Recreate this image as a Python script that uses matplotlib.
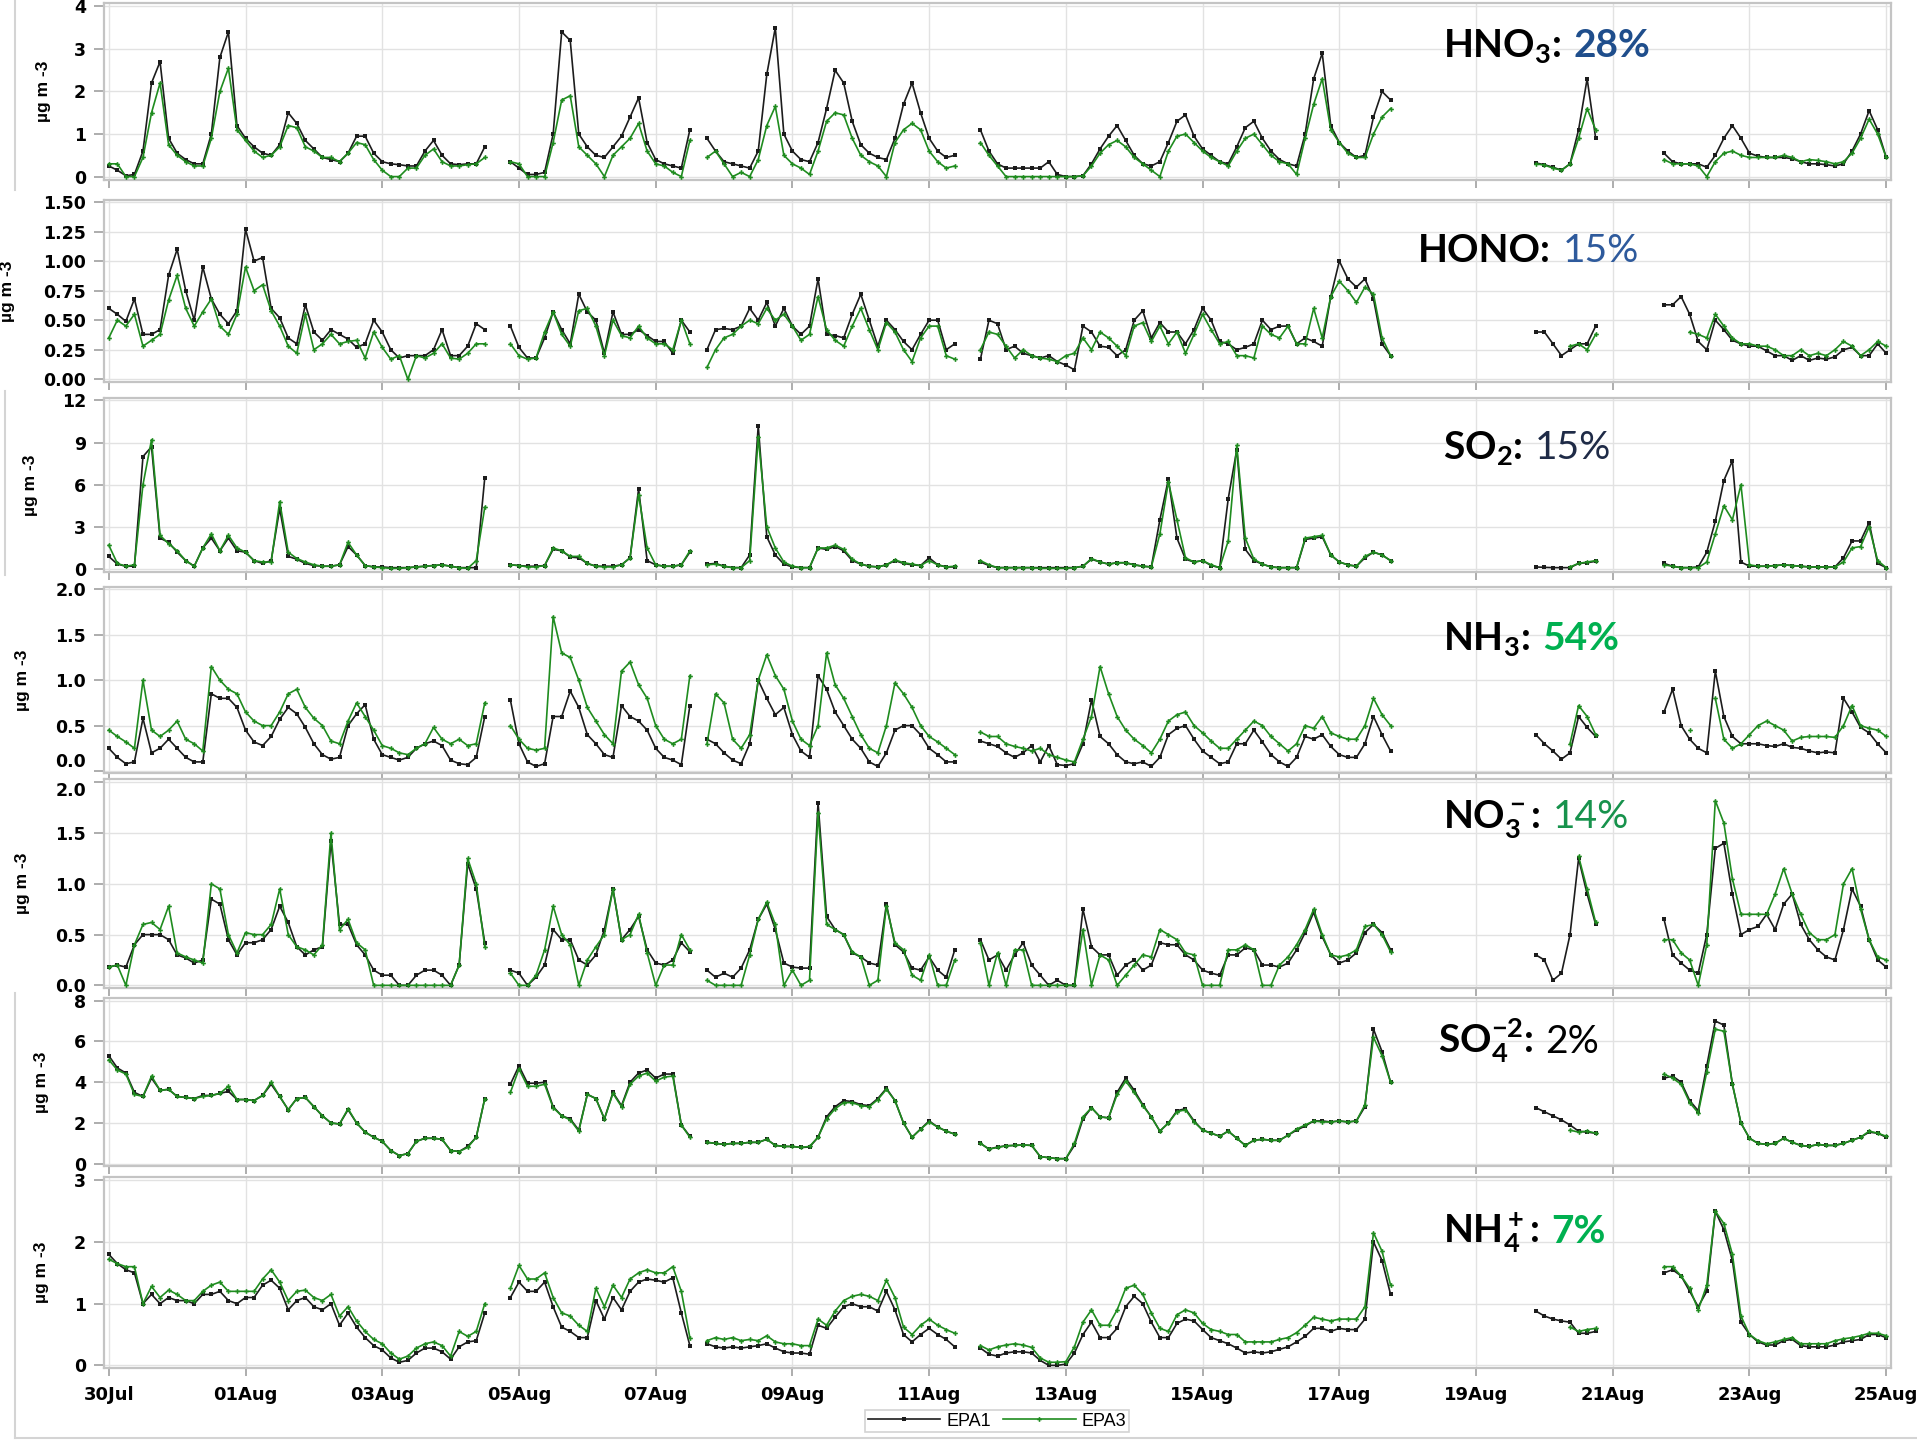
import numpy as np
import matplotlib
matplotlib.use("Agg")
import matplotlib.pyplot as plt
from matplotlib.lines import Line2D

nan = float("nan")

# ---------------- data ----------------
TICK_LABELS = ["30Jul", "01Aug", "03Aug", "05Aug", "07Aug", "09Aug", "11Aug",
               "13Aug", "15Aug", "17Aug", "19Aug", "21Aug", "23Aug", "25Aug"]
# days since 30 Jul 00:00 at which each measurement segment starts; 3-hourly values
SEG_START_DAYS = [0.0, 5.875, 8.75, 12.75, 20.875, 22.75]
STEP_DAYS = 0.125

HNO3_EPA1 = [
    [0.25,0.15,0.02,0.05,0.6,2.2,2.7,0.9,0.55,0.4,0.3,0.3,1.0,2.8,3.4,1.2,0.9,0.7,0.55,0.5,0.75,1.5,1.25,0.85,0.65,0.45,0.4,0.35,0.55,0.95,0.95,0.55,0.35,0.3,0.28,0.25,0.25,0.6,0.85,0.5,0.3,0.28,0.3,0.3,0.7],
    [0.35,0.2,0.05,0.05,0.1,1.0,3.4,3.2,1.0,0.7,0.5,0.45,0.7,0.95,1.4,1.85,0.8,0.4,0.3,0.25,0.2,1.1],
    [0.9,0.6,0.35,0.3,0.25,0.2,0.6,2.4,3.5,1.0,0.6,0.4,0.35,0.8,1.6,2.5,2.2,1.3,0.75,0.55,0.45,0.4,0.9,1.7,2.2,1.5,0.9,0.6,0.45,0.5],
    [1.1,0.6,0.3,0.2,0.2,0.2,0.2,0.2,0.35,0.05,0.0,0.0,0.02,0.3,0.65,0.95,1.2,0.85,0.5,0.3,0.25,0.35,0.8,1.3,1.45,0.95,0.65,0.5,0.35,0.3,0.7,1.15,1.3,0.9,0.6,0.4,0.3,0.25,1.0,2.3,2.9,1.2,0.8,0.6,0.45,0.5,1.4,2.0,1.8],
    [0.32,0.28,0.22,0.15,0.3,1.1,2.3,0.9],
    [0.55,0.35,0.3,0.3,0.3,0.22,0.5,0.9,1.2,0.9,0.55,0.48,0.45,0.45,0.45,0.42,0.35,0.3,0.3,0.28,0.25,0.3,0.6,1.0,1.55,1.1,0.45],
]
HNO3_EPA3 = [
    [0.3,0.3,0.0,0.0,0.45,1.5,2.2,0.75,0.5,0.35,0.25,0.25,0.9,2.0,2.55,1.1,0.85,0.6,0.45,0.5,0.7,1.2,1.15,0.7,0.6,0.45,0.45,0.35,0.55,0.8,0.75,0.4,0.15,0.0,0.0,0.2,0.2,0.5,0.65,0.35,0.25,0.25,0.28,0.3,0.45],
    [0.35,0.3,0.0,0.0,0.0,0.8,1.8,1.9,0.7,0.5,0.3,0.0,0.5,0.7,0.9,1.25,0.6,0.3,0.25,0.1,0.0,0.85],
    [0.45,0.6,0.3,0.0,0.1,0.0,0.4,1.2,1.65,0.5,0.3,0.2,0.05,0.6,1.3,1.5,1.45,0.9,0.5,0.35,0.25,0.0,0.8,1.1,1.25,1.1,0.6,0.35,0.2,0.25],
    [0.8,0.5,0.25,0.0,0.0,0.0,0.0,0.0,0.0,0.0,0.0,0.0,0.02,0.25,0.55,0.75,0.85,0.7,0.45,0.3,0.15,0.0,0.6,0.95,1.0,0.8,0.6,0.45,0.35,0.25,0.6,0.9,1.0,0.75,0.5,0.35,0.3,0.05,0.9,1.7,2.3,1.1,0.8,0.55,0.45,0.45,1.0,1.4,1.6],
    [0.3,0.27,0.2,0.15,0.3,0.9,1.6,1.1],
    [0.4,0.3,0.3,0.3,0.25,0.0,0.35,0.55,0.6,0.5,0.45,0.45,0.45,0.45,0.5,0.45,0.35,0.4,0.38,0.35,0.3,0.35,0.55,0.9,1.35,1.0,0.45],
]

HONO_EPA1 = [
    [0.6,0.55,0.49,0.68,0.38,0.38,0.42,0.88,1.1,0.75,0.5,0.95,0.68,0.55,0.47,0.58,1.27,1.0,1.03,0.6,0.52,0.35,0.3,0.63,0.4,0.33,0.42,0.38,0.34,0.27,0.3,0.5,0.4,0.25,0.18,0.2,0.2,0.2,0.25,0.42,0.2,0.2,0.28,0.47,0.42],
    [0.45,0.27,0.18,0.18,0.35,0.57,0.42,0.3,0.72,0.57,0.5,0.22,0.57,0.38,0.38,0.42,0.37,0.32,0.32,0.22,0.5,0.4],
    [0.25,0.42,0.43,0.42,0.45,0.6,0.5,0.65,0.45,0.6,0.45,0.38,0.45,0.85,0.38,0.37,0.35,0.55,0.72,0.5,0.28,0.5,0.42,0.32,0.25,0.38,0.5,0.5,0.25,0.3],
    [0.17,0.5,0.47,0.25,0.28,0.22,0.2,0.18,0.2,0.15,0.12,0.08,0.45,0.4,0.28,0.27,0.2,0.25,0.5,0.58,0.35,0.48,0.4,0.4,0.3,0.42,0.6,0.5,0.32,0.3,0.25,0.27,0.3,0.5,0.42,0.45,0.45,0.3,0.35,0.32,0.28,0.7,1.0,0.85,0.78,0.85,0.68,0.3,0.2],
    [0.4,0.4,0.3,0.2,0.25,0.3,0.3,0.45],
    [0.63,0.63,0.7,0.55,0.32,0.25,0.5,0.42,0.33,0.3,0.28,0.28,0.24,0.2,0.2,0.16,0.2,0.16,0.18,0.17,0.19,0.25,0.27,0.2,0.2,0.3,0.22],
]
HONO_EPA3 = [
    [0.35,0.5,0.45,0.55,0.28,0.33,0.38,0.67,0.88,0.6,0.45,0.57,0.68,0.45,0.38,0.55,0.95,0.75,0.8,0.58,0.45,0.28,0.22,0.55,0.25,0.3,0.38,0.3,0.32,0.33,0.18,0.4,0.27,0.17,0.2,0.0,0.2,0.18,0.22,0.3,0.18,0.17,0.22,0.3,0.3],
    [0.3,0.2,0.17,0.18,0.4,0.57,0.38,0.28,0.58,0.6,0.45,0.2,0.5,0.37,0.35,0.45,0.35,0.3,0.3,0.25,0.5,0.3],
    [0.1,0.25,0.35,0.38,0.45,0.5,0.47,0.6,0.5,0.55,0.45,0.33,0.38,0.7,0.42,0.33,0.28,0.45,0.6,0.42,0.25,0.48,0.4,0.25,0.15,0.35,0.45,0.45,0.2,0.17],
    [0.25,0.4,0.38,0.28,0.18,0.25,0.2,0.18,0.17,0.15,0.2,0.22,0.35,0.25,0.4,0.35,0.28,0.2,0.45,0.48,0.32,0.45,0.3,0.4,0.22,0.38,0.55,0.42,0.3,0.32,0.2,0.2,0.18,0.45,0.38,0.35,0.45,0.3,0.3,0.6,0.35,0.7,0.83,0.75,0.65,0.78,0.72,0.35,0.2],
    [nan,nan,nan,nan,0.28,0.3,0.25,0.38],
    [nan,nan,nan,0.4,0.38,0.35,0.55,0.45,0.35,0.3,0.3,0.28,0.28,0.25,0.2,0.2,0.25,0.2,0.22,0.2,0.25,0.32,0.28,0.2,0.25,0.32,0.28],
]

SO2_EPA1 = [
    [0.9,0.35,0.2,0.2,8.0,8.7,2.2,1.9,1.2,0.6,0.2,1.5,2.2,1.3,2.2,1.3,1.2,0.6,0.4,0.6,4.3,0.9,0.7,0.4,0.25,0.2,0.2,0.3,1.6,1.0,0.25,0.15,0.15,0.1,0.1,0.1,0.15,0.2,0.25,0.3,0.2,0.1,0.1,0.1,6.5],
    [0.3,0.25,0.2,0.2,0.25,1.4,1.3,0.85,0.8,0.4,0.2,0.2,0.2,0.3,0.8,5.7,0.6,0.3,0.2,0.2,0.3,1.2],
    [0.35,0.4,0.2,0.1,0.1,1.0,10.2,2.3,1.0,0.35,0.15,0.1,0.1,1.5,1.4,1.6,1.3,0.6,0.35,0.2,0.15,0.3,0.6,0.4,0.3,0.25,0.8,0.3,0.15,0.15],
    [0.5,0.25,0.1,0.1,0.1,0.1,0.1,0.1,0.1,0.1,0.1,0.1,0.2,0.7,0.5,0.35,0.45,0.45,0.3,0.2,0.15,3.5,6.4,2.2,0.7,0.5,0.6,0.25,0.1,5.0,8.5,1.4,0.6,0.35,0.15,0.1,0.1,0.1,2.1,2.2,2.3,1.0,0.5,0.3,0.2,0.8,1.2,1.0,0.6],
    [0.15,0.12,0.1,0.1,0.1,0.4,0.45,0.55],
    [0.4,0.2,0.1,0.1,0.15,1.2,3.4,6.3,7.7,0.5,0.2,0.2,0.2,0.25,0.3,0.25,0.2,0.15,0.15,0.15,0.15,0.8,2.0,2.0,3.3,0.4,0.1],
]
SO2_EPA3 = [
    [1.7,0.4,0.2,0.3,6.0,9.2,2.4,1.8,1.3,0.6,0.2,1.5,2.5,1.3,2.4,1.5,1.2,0.6,0.5,0.5,4.8,1.2,0.75,0.5,0.3,0.2,0.2,0.3,1.9,1.0,0.25,0.15,0.1,0.05,0.05,0.1,0.15,0.2,0.25,0.3,0.2,0.1,0.05,0.6,4.4],
    [0.3,0.25,0.15,0.15,0.25,1.5,1.3,0.9,0.9,0.4,0.2,0.15,0.15,0.3,0.8,5.3,1.5,0.3,0.2,0.2,0.3,1.3],
    [0.3,0.35,0.2,0.1,0.1,0.6,9.4,3.0,1.5,0.5,0.2,0.1,0.1,1.5,1.5,1.7,1.4,0.7,0.35,0.2,0.15,0.3,0.65,0.45,0.35,0.25,0.6,0.3,0.15,0.2],
    [0.6,0.3,0.1,0.1,0.1,0.1,0.1,0.05,0.05,0.05,0.05,0.1,0.2,0.75,0.5,0.35,0.45,0.45,0.3,0.2,0.15,2.5,6.2,3.5,0.8,0.5,0.6,0.3,0.1,2.0,8.8,2.2,0.7,0.35,0.15,0.1,0.1,0.1,2.2,2.3,2.4,1.0,0.5,0.3,0.2,0.9,1.2,1.0,0.6],
    [nan,nan,nan,nan,0.15,0.4,0.5,0.6],
    [0.3,0.2,0.1,0.1,0.1,0.5,2.5,4.5,3.5,6.0,0.3,0.2,0.2,0.25,0.3,0.25,0.2,0.15,0.15,0.15,0.15,0.5,1.5,1.6,3.0,0.6,0.1],
]

NH3_EPA1 = [
    [0.25,0.15,0.08,0.1,0.58,0.2,0.25,0.35,0.25,0.15,0.1,0.1,0.85,0.8,0.8,0.7,0.45,0.32,0.28,0.38,0.57,0.7,0.63,0.48,0.3,0.18,0.13,0.15,0.5,0.63,0.73,0.35,0.18,0.15,0.12,0.15,0.25,0.3,0.33,0.28,0.12,0.08,0.07,0.15,0.6],
    [0.78,0.3,0.1,0.05,0.08,0.6,0.6,0.88,0.7,0.4,0.3,0.18,0.15,0.72,0.6,0.55,0.45,0.25,0.15,0.12,0.07,0.72],
    [0.35,0.3,0.2,0.12,0.08,0.3,1.0,0.8,0.62,0.7,0.4,0.22,0.15,1.05,0.9,0.65,0.5,0.35,0.25,0.1,0.05,0.2,0.45,0.5,0.5,0.4,0.25,0.18,0.1,0.1],
    [0.33,0.3,0.27,0.2,0.15,0.2,0.28,0.1,0.28,0.07,0.06,0.08,0.3,0.78,0.38,0.3,0.18,0.1,0.08,0.1,0.05,0.15,0.4,0.47,0.5,0.35,0.22,0.15,0.08,0.1,0.3,0.3,0.45,0.32,0.18,0.1,0.05,0.15,0.38,0.35,0.4,0.27,0.18,0.15,0.15,0.3,0.6,0.4,0.22],
    [0.4,0.3,0.22,0.13,0.2,0.6,0.48,0.38],
    [0.65,0.9,0.5,0.35,0.25,0.2,1.1,0.6,0.38,0.3,0.3,0.3,0.28,0.27,0.3,0.26,0.25,0.22,0.2,0.21,0.2,0.8,0.65,0.48,0.42,0.3,0.2],
]
NH3_EPA3 = [
    [0.45,0.38,0.32,0.25,1.0,0.45,0.38,0.45,0.55,0.35,0.3,0.22,1.15,1.0,0.9,0.85,0.65,0.55,0.5,0.5,0.65,0.85,0.9,0.7,0.58,0.5,0.33,0.3,0.55,0.75,0.6,0.45,0.28,0.25,0.2,0.18,0.25,0.3,0.48,0.35,0.3,0.35,0.28,0.3,0.75],
    [0.5,0.35,0.25,0.23,0.25,1.7,1.3,1.25,1.0,0.7,0.55,0.4,0.3,1.1,1.2,0.95,0.8,0.5,0.35,0.3,0.35,1.05],
    [0.3,0.85,0.75,0.35,0.25,0.4,1.0,1.28,1.05,0.9,0.55,0.35,0.28,0.5,1.3,0.95,0.8,0.6,0.4,0.25,0.2,0.5,0.97,0.85,0.7,0.5,0.38,0.32,0.25,0.18],
    [0.43,0.38,0.38,0.3,0.27,0.25,0.22,0.25,0.18,0.15,0.12,0.1,0.35,0.6,1.15,0.85,0.6,0.45,0.35,0.28,0.2,0.35,0.55,0.62,0.65,0.5,0.42,0.33,0.25,0.25,0.35,0.45,0.55,0.5,0.38,0.3,0.22,0.3,0.5,0.47,0.6,0.42,0.38,0.35,0.35,0.5,0.8,0.62,0.5],
    [nan,nan,nan,nan,0.3,0.72,0.6,0.4],
    [nan,nan,nan,0.45,nan,nan,0.8,0.35,0.25,0.3,0.4,0.5,0.55,0.5,0.45,0.33,0.37,0.38,0.38,0.38,0.37,0.5,0.72,0.5,0.47,0.45,0.38],
]

NO3_EPA1 = [
    [0.18,0.2,0.18,0.4,0.5,0.5,0.5,0.45,0.3,0.27,0.22,0.25,0.85,0.8,0.45,0.3,0.42,0.42,0.45,0.55,0.78,0.62,0.38,0.3,0.35,0.38,1.42,0.6,0.6,0.4,0.3,0.15,0.1,0.1,0.0,0.0,0.1,0.15,0.15,0.1,0.0,0.2,1.2,0.95,0.42],
    [0.15,0.12,0.0,0.08,0.2,0.55,0.45,0.45,0.25,0.2,0.3,0.55,0.95,0.45,0.55,0.68,0.35,0.22,0.2,0.25,0.42,0.33],
    [0.15,0.08,0.12,0.08,0.17,0.35,0.65,0.8,0.55,0.22,0.18,0.17,0.17,1.8,0.68,0.55,0.5,0.32,0.28,0.22,0.2,0.8,0.4,0.33,0.17,0.15,0.28,0.15,0.08,0.35],
    [0.45,0.25,0.3,0.15,0.3,0.42,0.2,0.1,0.0,0.05,0.0,0.0,0.75,0.38,0.3,0.3,0.1,0.2,0.25,0.15,0.2,0.42,0.4,0.4,0.3,0.25,0.15,0.12,0.1,0.3,0.3,0.37,0.35,0.2,0.2,0.18,0.22,0.35,0.52,0.72,0.48,0.3,0.22,0.25,0.32,0.52,0.6,0.52,0.35],
    [0.3,0.25,0.05,0.12,0.5,1.25,0.9,0.6],
    [0.65,0.3,0.22,0.15,0.12,0.5,1.35,1.4,0.9,0.5,0.55,0.58,0.7,0.55,0.8,0.9,0.6,0.45,0.35,0.28,0.25,0.55,0.95,0.78,0.45,0.25,0.18],
]
NO3_EPA3 = [
    [0.18,0.2,0.0,0.4,0.6,0.62,0.55,0.78,0.32,0.28,0.25,0.22,1.0,0.95,0.5,0.32,0.52,0.5,0.5,0.6,0.95,0.5,0.38,0.35,0.3,0.4,1.5,0.55,0.65,0.42,0.35,0.0,0.0,0.0,0.0,0.0,0.0,0.0,0.0,0.0,0.0,0.2,1.25,1.0,0.38],
    [0.12,0.0,0.0,0.1,0.35,0.78,0.5,0.4,0.0,0.25,0.38,0.5,0.95,0.45,0.5,0.7,0.32,0.0,0.2,0.2,0.5,0.35],
    [0.05,0.0,0.0,0.0,0.0,0.3,0.65,0.82,0.6,0.0,0.15,0.0,0.05,1.7,0.6,0.55,0.5,0.33,0.28,0.0,0.05,0.78,0.42,0.35,0.1,0.05,0.3,0.0,0.0,0.25],
    [0.42,0.0,0.32,0.0,0.35,0.35,0.0,0.0,0.0,0.0,0.0,0.0,0.55,0.0,0.3,0.25,0.0,0.1,0.2,0.3,0.28,0.55,0.5,0.45,0.32,0.3,0.0,0.0,0.0,0.35,0.35,0.4,0.35,0.0,0.0,0.2,0.28,0.4,0.55,0.75,0.5,0.3,0.28,0.3,0.35,0.58,0.6,0.5,0.33],
    [nan,nan,nan,nan,nan,1.27,0.95,0.62],
    [0.45,0.45,0.32,0.25,0.0,0.4,1.82,1.6,1.05,0.7,0.7,0.7,0.7,0.9,1.15,0.9,0.7,0.52,0.45,0.45,0.5,1.0,1.15,0.75,0.45,0.28,0.25],
]

SO4_EPA1 = [
    [5.3,4.7,4.45,3.5,3.3,4.2,3.6,3.65,3.3,3.25,3.2,3.35,3.35,3.45,3.55,3.15,3.15,3.1,3.35,3.9,3.3,2.65,3.2,3.25,2.8,2.35,2.0,1.95,2.65,2.0,1.55,1.3,1.1,0.65,0.4,0.5,1.1,1.25,1.25,1.2,0.65,0.6,0.85,1.3,3.2],
    [3.9,4.8,3.95,3.95,4.0,2.8,2.35,2.2,1.65,3.4,3.2,2.2,3.5,2.85,4.0,4.45,4.6,4.2,4.4,4.4,1.9,1.35],
    [1.05,1.0,0.95,1.0,1.0,1.05,1.05,1.2,0.9,0.85,0.85,0.8,0.82,1.3,2.3,2.8,3.1,3.05,2.9,2.85,3.2,3.7,3.1,2.0,1.3,1.7,2.1,1.8,1.6,1.45],
    [1.0,0.72,0.82,0.88,0.9,0.92,0.9,0.35,0.3,0.25,0.25,0.9,2.2,2.75,2.3,2.25,3.5,4.2,3.6,2.9,2.3,1.6,2.0,2.6,2.7,2.1,1.65,1.5,1.35,1.6,1.25,0.9,1.15,1.2,1.15,1.15,1.4,1.65,1.85,2.1,2.1,2.05,2.1,2.05,2.1,2.8,6.6,5.5,4.0],
    [2.75,2.55,2.35,2.15,1.9,1.6,1.55,1.5],
    [4.2,4.3,4.0,3.1,2.6,4.8,7.0,6.8,3.9,2.0,1.25,1.0,0.95,1.0,1.25,1.05,0.9,0.85,0.95,0.9,0.9,1.0,1.15,1.3,1.55,1.5,1.3],
]
SO4_EPA3 = [
    [5.1,4.6,4.4,3.4,3.3,4.3,3.6,3.65,3.3,3.25,3.2,3.3,3.35,3.45,3.8,3.15,3.15,3.1,3.35,4.0,3.3,2.65,3.2,3.25,2.8,2.35,2.0,1.95,2.7,2.0,1.55,1.3,1.1,0.65,0.4,0.5,1.1,1.25,1.25,1.2,0.65,0.6,0.8,1.3,3.2],
    [3.5,4.65,3.8,3.8,3.9,2.75,2.35,2.15,1.6,3.4,3.2,2.2,3.45,2.8,3.9,4.3,4.45,4.05,4.25,4.3,1.9,1.3],
    [1.05,1.0,0.95,1.0,1.0,1.05,1.05,1.2,0.9,0.85,0.85,0.8,0.85,1.3,2.2,2.7,3.0,3.0,2.85,2.8,3.15,3.65,3.1,2.0,1.3,1.7,2.05,1.8,1.6,1.45],
    [1.0,0.72,0.8,0.88,0.9,0.92,0.9,0.35,0.3,0.25,0.25,1.0,2.3,2.75,2.3,2.25,3.4,4.05,3.5,2.85,2.3,1.6,2.0,2.55,2.65,2.05,1.65,1.5,1.35,1.6,1.25,0.9,1.15,1.2,1.15,1.15,1.4,1.7,1.9,2.1,2.05,2.05,2.1,2.05,2.1,2.9,6.2,5.3,4.0],
    [nan,nan,nan,nan,1.65,1.55,1.6,1.5],
    [4.4,4.2,3.9,3.0,2.5,4.5,6.6,6.5,3.9,2.0,1.25,1.0,0.95,1.0,1.25,1.05,0.9,0.85,0.95,0.9,0.9,1.0,1.15,1.3,1.6,1.5,1.35],
]

NH4_EPA1 = [
    [1.8,1.65,1.55,1.5,1.0,1.15,1.0,1.1,1.05,1.05,1.0,1.15,1.15,1.2,1.05,1.0,1.1,1.1,1.3,1.38,1.25,0.9,1.05,1.1,0.95,0.9,1.0,0.65,0.85,0.62,0.45,0.32,0.25,0.12,0.05,0.08,0.2,0.28,0.28,0.22,0.1,0.3,0.38,0.4,0.85],
    [1.1,1.35,1.2,1.2,1.35,0.95,0.62,0.55,0.45,0.45,1.05,0.75,1.1,0.9,1.2,1.35,1.4,1.38,1.35,1.42,0.85,0.32],
    [0.35,0.3,0.28,0.3,0.28,0.3,0.32,0.35,0.28,0.22,0.2,0.2,0.18,0.65,0.6,0.78,0.95,1.0,0.95,0.95,0.88,1.2,0.9,0.5,0.38,0.5,0.6,0.5,0.42,0.3],
    [0.28,0.18,0.15,0.2,0.22,0.22,0.2,0.08,0.0,0.0,0.02,0.2,0.5,0.7,0.45,0.45,0.6,0.95,1.12,1.0,0.7,0.45,0.45,0.68,0.75,0.72,0.58,0.45,0.4,0.35,0.28,0.2,0.22,0.2,0.22,0.26,0.3,0.38,0.47,0.6,0.6,0.55,0.6,0.58,0.58,0.75,2.0,1.7,1.15],
    [0.88,0.8,0.75,0.72,0.7,0.52,0.52,0.55],
    [1.5,1.55,1.45,1.2,0.95,1.2,2.5,2.2,1.7,0.7,0.5,0.38,0.33,0.33,0.4,0.42,0.32,0.3,0.3,0.3,0.33,0.38,0.4,0.42,0.5,0.5,0.45],
]
NH4_EPA3 = [
    [1.72,1.65,1.6,1.6,1.0,1.28,1.1,1.22,1.15,1.05,1.05,1.2,1.3,1.35,1.2,1.2,1.2,1.2,1.4,1.55,1.35,1.05,1.2,1.22,1.1,1.05,1.15,0.8,0.95,0.72,0.55,0.42,0.35,0.2,0.1,0.15,0.28,0.35,0.38,0.32,0.15,0.55,0.47,0.55,1.0],
    [1.25,1.62,1.4,1.4,1.5,1.1,0.85,0.8,0.65,0.55,1.25,0.95,1.3,1.1,1.4,1.5,1.55,1.5,1.5,1.6,1.2,0.45],
    [0.4,0.45,0.42,0.45,0.4,0.42,0.4,0.48,0.38,0.35,0.35,0.32,0.32,0.75,0.65,0.88,1.05,1.12,1.15,1.12,1.05,1.38,1.1,0.62,0.5,0.65,0.75,0.65,0.58,0.52],
    [0.32,0.25,0.3,0.33,0.35,0.33,0.29,0.12,0.05,0.05,0.06,0.3,0.7,0.9,0.65,0.65,0.9,1.25,1.3,1.15,0.85,0.6,0.55,0.82,0.9,0.85,0.68,0.58,0.55,0.5,0.5,0.38,0.38,0.38,0.38,0.42,0.45,0.53,0.65,0.78,0.75,0.72,0.75,0.75,0.75,0.95,2.15,1.85,1.3],
    [nan,nan,nan,nan,0.62,0.55,0.58,0.6],
    [1.6,1.6,1.45,1.25,0.9,1.3,2.5,2.3,1.8,0.8,0.5,0.4,0.35,0.38,0.42,0.45,0.35,0.35,0.35,0.35,0.4,0.43,0.45,0.48,0.52,0.52,0.48],
]

LABELS = [r"HNO$_3$:", "HONO:", r"SO$_2$:", r"NH$_3$:", r"NO$_3^-$:", r"SO$_4^{-2}$:", r"NH$_4^+$:"]
PERCENTS = ["28%", "15%", "15%", "54%", "14%", "2%", "7%"]
Y_TICKS = [[0, 1, 2, 3, 4],
           [0.0, 0.25, 0.5, 0.75, 1.0, 1.25, 1.5],
           [0, 3, 6, 9, 12],
           [0.0, 0.5, 1.0, 1.5, 2.0],
           [0.0, 0.5, 1.0, 1.5, 2.0],
           [0, 2, 4, 6, 8],
           [0, 1, 2, 3]]
SERIES = [(HNO3_EPA1, HNO3_EPA3), (HONO_EPA1, HONO_EPA3), (SO2_EPA1, SO2_EPA3),
          (NH3_EPA1, NH3_EPA3), (NO3_EPA1, NO3_EPA3), (SO4_EPA1, SO4_EPA3),
          (NH4_EPA1, NH4_EPA3)]

# ---------------- style / layout ----------------
W, H = 1917, 1440
plt.rcParams["mathtext.fontset"] = "custom"
plt.rcParams["mathtext.rm"] = "Lato:bold"
plt.rcParams["mathtext.bf"] = "Lato:bold"
plt.rcParams["mathtext.it"] = "Lato:bold"
plt.rcParams["mathtext.default"] = "bf"

BOXES = [(3, 180), (200, 382), (398, 572), (587, 773), (779, 988), (998, 1166), (1177, 1368)]
YLIMS = [(-0.08, 4.08), (-0.023, 1.517), (-0.21, 12.17), (-0.022, 2.026),
         (-0.026, 2.033), (-0.11, 8.13), (-0.043, 3.054)]
TICK_FMT = ["{:.0f}", "{:.2f}", "{:.0f}", "{:.1f}", "{:.1f}", "{:.0f}", "{:.0f}"]
YLAB_X = [43, 8, 31, 23, 23, 41, 41]
LAB_POS = [(1443, 57), (1418, 262), (1443, 459), (1443, 650), (1443, 828), (1438, 1053), (1443, 1243)]
PCT_COL = ["#1F4E8C", "#2E5A9C", "#1F2B47", "#00B050", "#17924C", "#000000", "#00B050"]
PCT_BOLD = [True, False, False, True, False, False, True]

BLACK = "#1c1c1c"
GREEN = "#1f8c1f"
LEFT, RIGHT = 104, 1891

fig = plt.figure(figsize=(W / 100, H / 100), dpi=100)
fig.patch.set_facecolor("white")

axes = []
for i, ((top, bot), (e1, e3)) in enumerate(zip(BOXES, SERIES)):
    ax = fig.add_axes([LEFT / W, 1 - bot / H, (RIGHT - LEFT) / W, (bot - top) / H])
    axes.append(ax)
    for s, (seg1, seg3) in enumerate(zip(e1, e3)):
        v1 = np.array(seg1, dtype=float)
        v3 = np.array(seg3, dtype=float)
        t1 = SEG_START_DAYS[s] + STEP_DAYS * np.arange(len(v1))
        t3 = SEG_START_DAYS[s] + STEP_DAYS * np.arange(len(v3))
        ax.plot(t1, v1, color=BLACK, lw=1.2, marker="s", ms=2.8, mew=0,
                label="EPA1" if s == 0 else None, zorder=3)
        ax.plot(t3, v3, color=GREEN, lw=1.2, marker="P", ms=3.4, mew=0,
                label="EPA3" if s == 0 else None, zorder=4)
    ax.set_xlim(-0.07, 26.07)
    ax.set_ylim(*YLIMS[i])
    ax.set_xticks(np.arange(0, 27, 2))
    ax.set_yticks(Y_TICKS[i])
    ax.set_yticklabels([TICK_FMT[i].format(v) for v in Y_TICKS[i]],
                       fontfamily="DejaVu Sans", fontweight="bold", fontsize=12.5)
    if i == len(BOXES) - 1:
        ax.set_xticklabels(TICK_LABELS, fontfamily="DejaVu Sans", fontweight="bold", fontsize=13)
    else:
        ax.set_xticklabels([])
    ax.grid(True, color="#e2e2e2", lw=1.0, zorder=0)
    ax.set_axisbelow(True)
    for sp in ax.spines.values():
        sp.set_color("#c4c4c4")
        sp.set_linewidth(1.6)
    ax.tick_params(axis="y", direction="out", length=7, width=1.2, color="#a0a0a0", pad=6)
    ax.tick_params(axis="x", direction="out", length=6, width=1.2, color="#a0a0a0", pad=7)
    ax.set_facecolor("white")
    fig.text(YLAB_X[i] / W, 1 - (top + bot) / 2 / H, "µg m -3", rotation=90,
             ha="center", va="center", fontsize=12.5, fontweight="bold",
             family=["Liberation Sans", "DejaVu Sans"])

# keep the touching tick labels of the NH3 / NO3- panels apart
axes[3].get_yticklabels()[0].set_va("bottom")
axes[4].get_yticklabels()[-1].set_va("top")

# panel labels with coloured percentages
lab_artists = []
for i in range(len(LABELS)):
    x, y = LAB_POS[i]
    t = fig.text(x / W, 1 - y / H, LABELS[i], ha="left", va="baseline",
                 fontsize=28, fontweight="bold", family=["Lato", "DejaVu Sans"], color="black")
    lab_artists.append(t)
fig.canvas.draw()
renderer = fig.canvas.get_renderer()
for i, t in enumerate(lab_artists):
    bb = t.get_window_extent(renderer)
    x, y = LAB_POS[i]
    fig.text((bb.x1 + 12) / W, 1 - y / H, PERCENTS[i], ha="left", va="baseline",
             fontsize=28, fontweight="bold" if PCT_BOLD[i] else "normal",
             family=["Lato", "DejaVu Sans"], color=PCT_COL[i])

# legend
h, l = axes[-1].get_legend_handles_labels()
leg = fig.legend(h, l, loc="center", bbox_to_anchor=(997 / W, 1 - 1421 / H), ncol=2,
                 frameon=True, fancybox=False, edgecolor="#c8c8c8",
                 handlelength=4.0, handletextpad=0.35, columnspacing=0.7,
                 borderpad=0.15, prop={"family": "Liberation Sans", "size": 13})
leg.get_frame().set_linewidth(1.2)

# light frame lines from the original composite
for (x0, y0, x1, y1) in [(15, 0, 15, 190), (5, 391, 5, 575), (15, 993, 15, 1438), (15, 1438, 1917, 1438)]:
    fig.add_artist(Line2D([x0 / W, x1 / W], [1 - y0 / H, 1 - y1 / H], color="#d4d4d4", lw=1.5))

fig.savefig("out.png", dpi=100, facecolor="white")
